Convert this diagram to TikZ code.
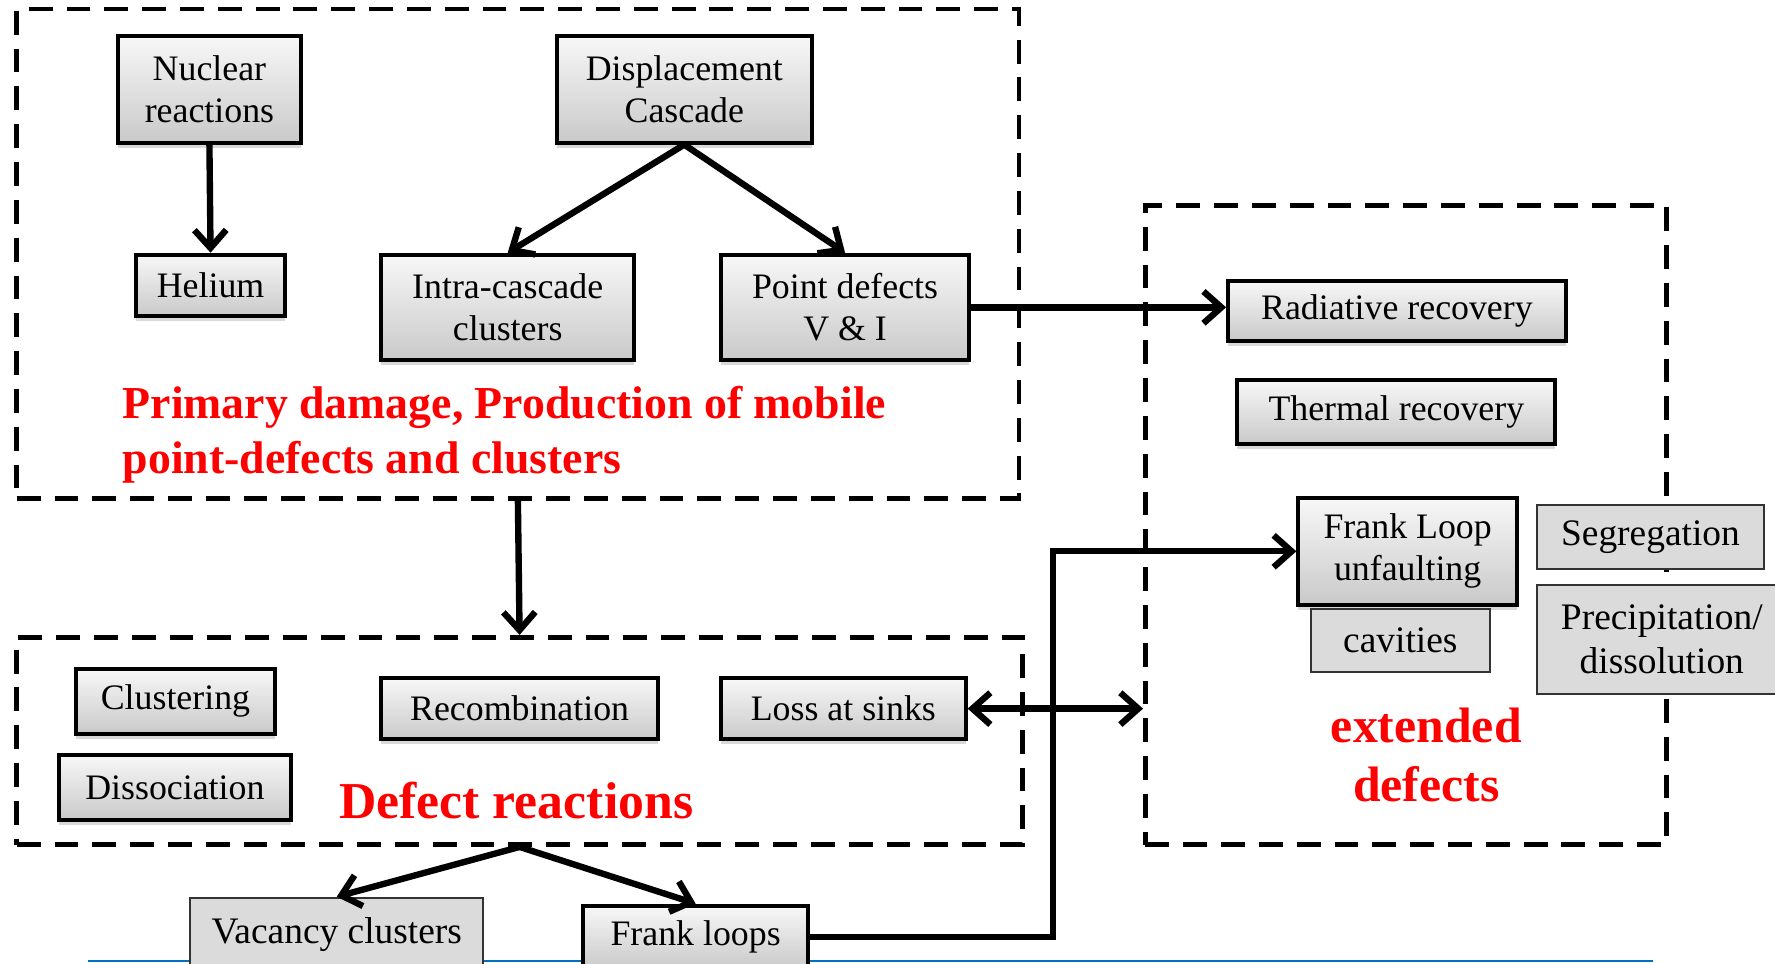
\documentclass[tikz,border=0pt]{standalone}
\usepackage{fontspec}
\setmainfont{Liberation Serif}
\usetikzlibrary{arrows.meta,shadows}
\definecolor{slideblue}{RGB}{0,112,192}
\tikzset{
  gbox/.style={
    draw,
    line width=1pt,
    top color=gray!6,
    bottom color=gray!42,
    drop shadow={shadow xshift=0pt,shadow yshift=-1.3pt,opacity=0.3},
    align=center,
    inner sep=1pt,
    font=\fontsize{9}{10.5}\selectfont
  },
  flatbox/.style={
    draw=black!80,
    line width=0.5pt,
    fill=gray!28,
    align=center,
    inner sep=1pt,
    font=\fontsize{9.4}{11}\selectfont
  },
  zone/.style={
    draw,
    line width=1.2pt,
    dash pattern=on 6pt off 3.5pt,
    inner sep=0pt
  },
  zonelabel/.style={
    text=red,
    font=\fontsize{11.5}{13.6}\selectfont\bfseries
  },
  arr/.style={
    line width=1.6pt,
    ->
  },
  >={Straight Barb[length=4.5pt,width=8pt]}
}

\begin{document}
\begin{tikzpicture}[x=0.01cm,y=-0.01cm]
        \clip (0,0) rectangle (1568,851);

        % dashed zones
        \node[zone, minimum width=8.85cm, minimum height=4.32cm] (prim) at (457.5,224) {};
        \node[zone, minimum width=8.88cm, minimum height=1.83cm] (react) at (459,654.5) {};
        \node[zone, minimum width=4.60cm, minimum height=5.64cm] (ext) at (1242,464) {};

        \draw[line width=0.6pt, slideblue] (78,849) -- (1460,849);

        % primary damage
        \node[gbox, minimum width=1.62cm, minimum height=0.94cm] (nuc) at (185,79) {Nuclear\\reactions};
        \node[gbox, minimum width=2.25cm, minimum height=0.94cm] (disp) at (604.5,79) {Displacement\\Cascade};
        \node[gbox, minimum width=1.32cm, minimum height=0.54cm] (hel) at (186,252) {Helium};
        \node[gbox, minimum width=2.23cm, minimum height=0.93cm] (intra) at (448.5,271.5) {Intra-cascade\\clusters};
        \node[gbox, minimum width=2.19cm, minimum height=0.93cm] (point) at (746.5,271.5) {Point defects\\V \& I};
        \node[zonelabel, anchor=west, align=left] (primlab) at (96,384) {Primary damage, Production of mobile\\point-defects and clusters};

        % defect reactions
        \node[gbox, minimum width=1.76cm, minimum height=0.57cm] (clus) at (155,619.5) {Clustering};
        \node[gbox, minimum width=2.05cm, minimum height=0.57cm] (diss) at (154.5,695.5) {Dissociation};
        \node[gbox, minimum width=2.44cm, minimum height=0.54cm] (recomb) at (459,626) {Recombination};
        \node[gbox, minimum width=2.16cm, minimum height=0.54cm] (loss) at (745,626) {Loss at sinks};
        \node[zonelabel, font=\fontsize{13}{15}\selectfont\bfseries] (reactlab) at (456,707) {Defect reactions};

        % extended defects
        \node[gbox, minimum width=2.98cm, minimum height=0.53cm] (rad) at (1234,274.5) {Radiative recovery};
        \node[gbox, minimum width=2.81cm, minimum height=0.56cm] (therm) at (1233.5,364) {Thermal recovery};
        \node[gbox, minimum width=1.93cm, minimum height=0.94cm] (fl) at (1243.5,487) {Frank Loop\\unfaulting};
        \node[flatbox, minimum width=1.58cm, minimum height=0.56cm] (cav) at (1237,566) {cavities};
        \node[flatbox, minimum width=2.00cm, minimum height=0.57cm] (seg) at (1458,474.5) {Segregation};
        \node[flatbox, minimum width=2.20cm, minimum height=0.96cm] (prec) at (1468,565) {Precipitation/\\dissolution};
        \node[zonelabel, align=center, font=\fontsize{12.5}{14.8}\selectfont\bfseries] (extlab) at (1260,667) {extended\\defects};

        % products
        \node[flatbox, minimum width=2.59cm, minimum height=0.65cm] (vac) at (297.5,825.5) {Vacancy clusters};
        \node[gbox, minimum width=1.99cm, minimum height=0.56cm] (floops) at (614.5,828) {Frank loops};

        \coordinate (bend) at (930,487);

        \draw[arr] (nuc.south) -- (hel.north);
        \draw[arr] (disp.south) -- (intra.north);
        \draw[arr] (disp.south) -- (point.north);
        \draw[arr] (point.east) -- (point.east -| rad.west);
        \draw[arr] (prim.south) -- (react.north);
        \draw[arr, <->] (loss.east) -- (loss.east -| ext.west);
        \draw[arr] (react.south) -- (vac.north);
        \draw[arr] (react.south) -- (floops.north);
        \draw[arr] (floops.east) -| (bend) -- (fl.west);
\end{tikzpicture}
\end{document}
